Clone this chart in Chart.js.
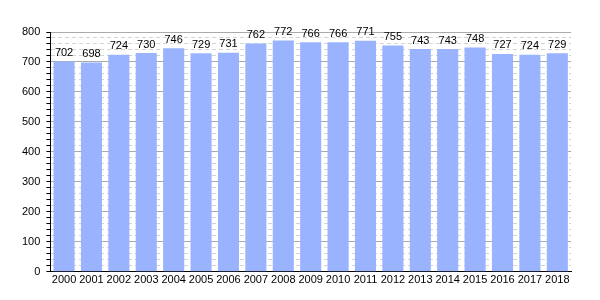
<!DOCTYPE html>
<html>
<head>
    <script src="https://cdn.jsdelivr.net/npm/chart.js"></script>
</head>
<body style="margin: 0">
<div style="width: 600px; height: 300px">
    <canvas id="chart"></canvas>
</div>
<script>
    var years = ['2000','2001','2002','2003','2004','2005','2006','2007','2008','2009',
                 '2010','2011','2012','2013','2014','2015','2016','2017','2018'];
    var population = [702, 698, 724, 730, 746, 729, 731, 762, 772, 766,
                      766, 771, 755, 743, 743, 748, 727, 724, 729];

    // value labels above each bar
    var barLabels = {
        id: 'barLabels',
        afterDatasetsDraw: function(chart) {
            var ctx = chart.ctx;
            var meta = chart.getDatasetMeta(0);
            ctx.save();
            ctx.font = '11px "Liberation Sans", Arial, sans-serif';
            ctx.fillStyle = '#000';
            ctx.textAlign = 'center';
            ctx.textBaseline = 'bottom';
            meta.data.forEach(function(bar, i) {
                ctx.fillText(population[i], bar.x, bar.y - 3);
            });
            ctx.restore();
        }
    };

    Chart.defaults.font.family = '"Liberation Sans", Arial, sans-serif';
    Chart.defaults.font.size = 11;
    Chart.defaults.color = '#000';

    var ctx = document.getElementById('chart').getContext('2d');
    var chart = new Chart(ctx, {
        type: 'bar',
        data: {
            labels: years,
            datasets: [{
                data: population,
                backgroundColor: '#99b3ff',
                barPercentage: 0.77,
                categoryPercentage: 1.0
            }]
        },
        plugins: [barLabels],
        options: {
            responsive: true,
            maintainAspectRatio: false,
            animation: false,
            layout: { padding: { top: 32, right: 29, left: 16, bottom: 11 } },
            plugins: {
                legend: { display: false },
                tooltip: { enabled: false }
            },
            scales: {
                x: {
                    grid: { display: false, drawTicks: false },
                    border: { color: '#000', width: 1 },
                    ticks: { padding: 2, maxRotation: 0, autoSkip: false }
                },
                y: {
                    min: 0,
                    max: 800,
                    grid: {
                        color: function(c) { return c.tick.value % 100 === 0 ? '#aaaaaa' : '#d4d4d4'; },
                        tickColor: '#000',
                        tickLength: 4
                    },
                    border: {
                        color: '#000',
                        width: 1,
                        dash: function(c) { return c.tick && c.tick.value % 100 !== 0 ? [4, 3] : []; }
                    },
                    ticks: {
                        stepSize: 20,
                        padding: 6,
                        autoSkip: false,
                        callback: function(v) { return v % 100 === 0 ? v : ''; }
                    }
                }
            }
        }
    });
</script>
</body>
</html>
